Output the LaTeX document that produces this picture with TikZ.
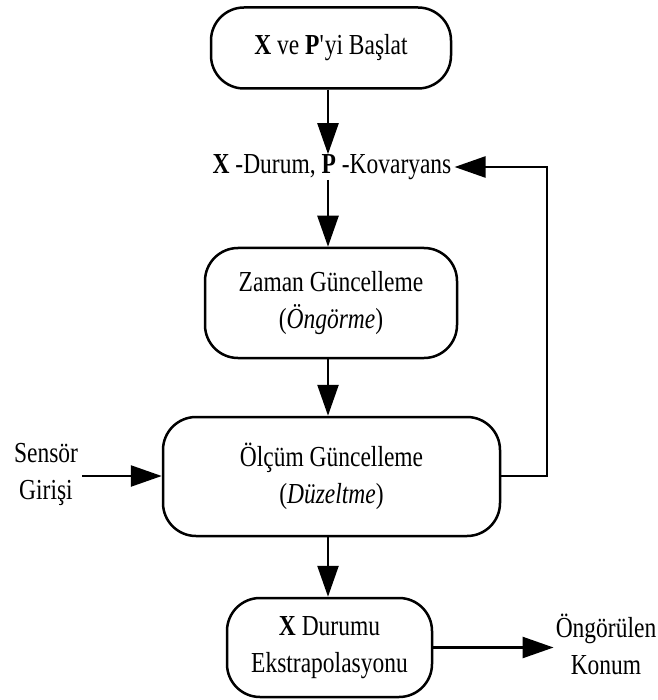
\documentclass[tikz,border=0pt]{standalone}
\usepackage{fontspec}
\setmainfont[FakeStretch=0.81]{Liberation Serif}
\usetikzlibrary{arrows.meta}
\begin{document}
\begin{tikzpicture}[x=1pt,y=-1pt,
  every node/.style={font=\fontsize{29}{37}\selectfont, align=center, inner sep=0pt},
  rbox/.style={draw, line width=2.5pt, rounded corners=33pt},
  conn/.style={line width=2.5pt, -{Triangle[length=31pt,width=21pt]}},
  plain/.style={line width=2.5pt}]
\useasboundingbox (0,0) rectangle (657,700);
\node[rbox, minimum width=240pt, minimum height=81pt] (init) at (331,48) {\textbf{X} ve \textbf{P}\textquotesingle yi Başlat};
\node (state) at (332,167) {\textbf{X} -Durum, \textbf{P} -Kovaryans};
\node[rbox, minimum width=252pt, minimum height=110pt] (time) at (331,303) {Zaman Güncelleme\\(\textit{Öngörme})};
\node[rbox, minimum width=337pt, minimum height=119pt] (meas) at (331.5,476.5) {Ölçüm Güncelleme\\(\textit{Düzeltme})};
\node[rbox, minimum width=205pt, minimum height=99pt] (extra) at (329.5,647.5) {\textbf{X} Durumu\\Ekstrapolasyonu};
\node (sensor) at (46,474) {Sensör\\Girişi};
\node (out) at (606,644) {Öngörülen\\Konum};
\coordinate (fb) at (547,476);
\draw[conn] (init.south -| 328,0) -- (state.north -| 328,0);
\draw[conn] (state.south -| 328,0) -- (time.north -| 328,0);
\draw[conn] (time.south -| 328,0) -- (meas.north -| 328,0);
\draw[conn] (meas.south -| 328,0) -- (extra.north -| 328,0);
\draw[conn] (sensor.east |- 0,476) ++(4,0) -- (meas.west |- 0,476);
\draw[conn] (meas.east |- fb) -- (fb) |- ([xshift=3pt]state.east);
\draw[conn] (extra.east) -- ([xshift=-2pt]out.west |- extra.east);
\end{tikzpicture}
\end{document}
